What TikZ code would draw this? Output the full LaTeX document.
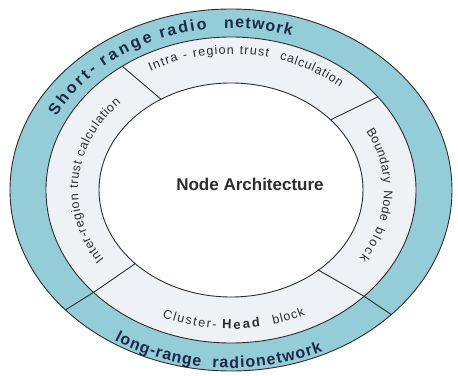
\documentclass[tikz,border=0pt]{standalone}
\usepackage{fontspec}
\setmainfont{Liberation Sans}
\usetikzlibrary{decorations.text}

\definecolor{netblue}{RGB}{148,204,216}
\definecolor{ringgray}{RGB}{238,241,246}
\definecolor{edge}{RGB}{45,45,45}
\definecolor{navy}{RGB}{28,42,72}
\definecolor{ink}{RGB}{45,45,45}

\tikzset{
  ringline/.style={draw=edge, line width=0.9pt},
  netlabel/.style={decorate, decoration={text along path, text align={fit to path},
      text color=navy, text={|\fontsize{16}{16}\selectfont\bfseries|#1}}},
  blocklabel/.style={decorate, decoration={text along path, text align={fit to path},
      text color=ink, text={|\fontsize{12.5}{13}\selectfont|#1}}},
  boldblock/.style={decorate, decoration={text along path, text align={fit to path},
      text color=ink, text={|\fontsize{13}{14}\selectfont\bfseries|#1}}},
}

% text along an elliptic arc: #1 start angle, #2 end angle, #3 x radius, #4 y radius
\newcommand{\ringarc}[4]{(#1:#3pt and #4pt) arc[start angle=#1, end angle=#2, x radius=#3pt, y radius=#4pt]}

\begin{document}
\begin{tikzpicture}
\useasboundingbox (-231pt,-185pt) rectangle (227pt,190pt);

% three rings
\fill[netblue] (0,0) ellipse [x radius=221pt, y radius=181pt];
\fill[ringgray] (0,0) ellipse [x radius=185pt, y radius=153pt];
\fill[white] (0,0) ellipse [x radius=132pt, y radius=107pt];
\draw[ringline] (0,0) ellipse [x radius=221pt, y radius=181pt];
\draw[ringline] (0,0) ellipse [x radius=185pt, y radius=153pt];
\draw[ringline] (0,0) ellipse [x radius=132pt, y radius=107pt];

% end points of the block dividers
\coordinate (tlm) at (126:185pt and 153pt);
\coordinate (tli) at (122:132pt and 107pt);
\coordinate (trm) at (37.5:185pt and 153pt);
\coordinate (tri) at (41:132pt and 107pt);
\coordinate (brm) at (-44:185pt and 153pt);
\coordinate (bri) at (-48.5:132pt and 107pt);
\coordinate (blm) at (222:185pt and 153pt);
\coordinate (bli) at (223.5:132pt and 107pt);
\coordinate (blo) at (221.5:221pt and 181pt);
\coordinate (bro) at (-43.5:221pt and 181pt);

\draw[ringline] (tli) -- (tlm);
\draw[ringline] (tri) -- (trm);
\draw[ringline] (bri) -- (brm);
\draw[ringline] (bli) -- (blm);
\draw[ringline] (blm) -- (blo);
\draw[ringline] (brm) -- (bro);

% outer ring labels
\path[netlabel={Short-}] \ringarc{153}{133}{196}{162};
\path[netlabel={range}] \ringarc{130.5}{113.5}{196}{162};
\path[netlabel={radio}] \ringarc{111}{97}{196}{162};
\path[netlabel={network}] \ringarc{92}{72}{196}{162};
\path[netlabel={long-range}] \ringarc{237.5}{262}{217}{178};
\path[netlabel={radionetwork}] \ringarc{265}{295}{217}{178};

% block labels
\path[blocklabel={Intra - region trust}] \ringarc{119}{77}{166}{136};
\path[blocklabel={calculation}] \ringarc{73}{49}{166}{136};
\path[blocklabel={Inter-region trust calculation}] \ringarc{214}{136}{153}{125};
\path[blocklabel={Boundary}] \ringarc{28}{3}{153}{125};
\path[blocklabel={Node}] \ringarc{0}{-14}{153}{125};
\path[blocklabel={block}] \ringarc{-17}{-33}{153}{125};
\path[blocklabel={Cluster-}] \ringarc{246}{265}{169}{139};
\path[boldblock={Head}] \ringarc{267}{280}{169}{139};
\path[blocklabel={block}] \ringarc{284.5}{296}{169}{139};

% centre title
\node[text=ink, font=\fontsize{17}{18}\selectfont\bfseries] (arch) at (19pt,6pt) {Node Architecture};
\end{tikzpicture}
\end{document}
